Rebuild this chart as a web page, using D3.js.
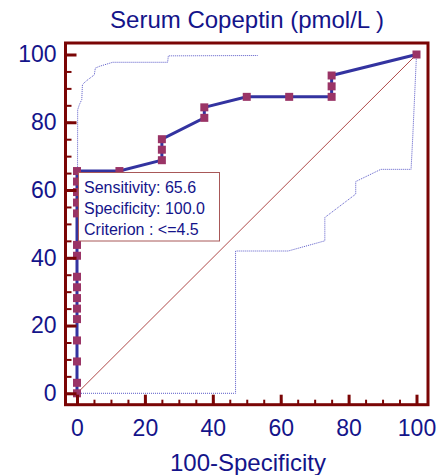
<!DOCTYPE html>
<html>
<head>
<meta charset="utf-8">
<script src="https://cdn.jsdelivr.net/npm/d3@7"></script>
<style>
  body { margin: 0; background: #fff; }
  svg { display: block; font-family: "Liberation Sans", Arial, sans-serif; }
</style>
</head>
<body>
<svg id="chart" width="440" height="475"></svg>
<script>
// ROC curve points (100-Specificity, Sensitivity)
var rocX = [0, 0, 0, 0, 0, 0, 0, 0, 0, 0, 0, 0, 0, 0, 0, 0,
            12.5, 25, 25, 25, 37.5, 37.5, 50, 62.5, 75, 75, 75, 100];
var rocY = [0, 3.1, 9.4, 15.6, 21.9, 25, 28.1, 31.3, 34.4, 40.6, 43.8, 53.1, 56.3, 59.4, 62.5, 65.6,
            65.6, 68.8, 71.9, 75, 81.3, 84.4, 87.5, 87.5, 87.5, 90.6, 93.8, 100];

// confidence bounds
var upperX = [0, 0.2, 0.7, 1.4, 1.6, 2.6, 5.1, 5.4, 6.6, 10.5, 26.7, 26.9, 53.2];
var upperY = [0, 83.7, 85.2, 86.7, 91.1, 92.1, 94, 96, 96.5, 97.7, 97.7, 99.6, 99.7];
var lowerX = [0, 46.7, 46.7, 62.2, 73, 73, 82.1, 82.1, 89.5, 98.4, 98.9, 100];
var lowerY = [0, 0, 42, 42, 45, 51.9, 58.8, 62.5, 66.1, 66.1, 75.7, 100];

var majorTicks = [0, 20, 40, 60, 80, 100];
var minorTicks = d3.range(0, 101, 5);

var legendLines = ["Sensitivity: 65.6", "Specificity: 100.0", "Criterion : <=4.5"];

var navy = "#14148a",
    frameColor = "#7a0505";

var svg = d3.select("#chart");

var x = d3.scaleLinear().domain([0, 100]).range([77, 416.5]);
var y = d3.scaleLinear().domain([0, 100]).range([393.3, 54.5]);

var frame = {left: 65.5, top: 43, right: 428, bottom: 404.7};

function pts(xs, ys) {
    return xs.map(function (v, i) { return [v, ys[i]]; });
}

var line = d3.line()
    .x(function (d) { return x(d[0]); })
    .y(function (d) { return y(d[1]); });

// title
svg.append("text")
    .attr("x", 247).attr("y", 28)
    .attr("text-anchor", "middle")
    .attr("font-size", "24px")
    .attr("fill", navy)
    .text("Serum Copeptin (pmol/L )");

// x label
svg.append("text")
    .attr("x", 248).attr("y", 471)
    .attr("text-anchor", "middle")
    .attr("font-size", "24px")
    .attr("fill", navy)
    .text("100-Specificity");

// diagonal reference
svg.append("path")
    .datum([[0, 0], [100, 100]])
    .attr("d", line)
    .attr("fill", "none")
    .attr("stroke", "#b04a4a")
    .attr("stroke-width", 1);

// confidence bands
[pts(upperX, upperY), pts(lowerX, lowerY)].forEach(function (band) {
    svg.append("path")
        .datum(band)
        .attr("d", line)
        .attr("fill", "none")
        .attr("stroke", "#5a5ac8")
        .attr("stroke-width", 1)
        .attr("stroke-dasharray", "1,1");
});

// roc curve
var roc = pts(rocX, rocY);
svg.append("path")
    .datum(roc)
    .attr("d", line)
    .attr("fill", "none")
    .attr("stroke", "#3333a0")
    .attr("stroke-width", 3);

svg.selectAll(".pt")
    .data(roc)
    .enter().append("rect")
    .attr("class", "pt")
    .attr("x", function (d) { return x(d[0]) - 4; })
    .attr("y", function (d) { return y(d[1]) - 4; })
    .attr("width", 8)
    .attr("height", 8)
    .attr("fill", "#9a3466");

// axes
function styleAxis(g, w) {
    g.select(".domain").remove();
    g.selectAll(".tick line").attr("stroke", frameColor).attr("stroke-width", w);
    g.selectAll(".tick text").attr("fill", navy).attr("font-size", "23px")
        .attr("font-family", "\"Liberation Sans\", Arial, sans-serif");
}

var xMinor = svg.append("g")
    .attr("transform", "translate(0," + frame.bottom + ")")
    .call(d3.axisBottom(x).tickValues(minorTicks).tickSize(-5).tickFormat(""));
styleAxis(xMinor, 2);

var xMajor = svg.append("g")
    .attr("transform", "translate(0," + frame.bottom + ")")
    .call(d3.axisBottom(x).tickValues(majorTicks).tickSizeInner(-10).tickSizeOuter(0).tickPadding(15));
styleAxis(xMajor, 3);

var yMinor = svg.append("g")
    .attr("transform", "translate(" + frame.left + ",0)")
    .call(d3.axisLeft(y).tickValues(minorTicks).tickSize(-6).tickFormat(""));
styleAxis(yMinor, 2);

var yMajor = svg.append("g")
    .attr("transform", "translate(" + frame.left + ",0)")
    .call(d3.axisLeft(y).tickValues(majorTicks).tickSizeInner(-11).tickSizeOuter(0).tickPadding(9));
styleAxis(yMajor, 3);

// frame
svg.append("rect")
    .attr("x", frame.left).attr("y", frame.top)
    .attr("width", frame.right - frame.left)
    .attr("height", frame.bottom - frame.top)
    .attr("fill", "none")
    .attr("stroke", frameColor)
    .attr("stroke-width", 3);

// legend box
var lg = svg.append("g").attr("transform", "translate(78.5,172.5)");
lg.append("rect")
    .attr("width", 141).attr("height", 68.5)
    .attr("fill", "#fff")
    .attr("stroke", "#a85858")
    .attr("stroke-width", 1);
lg.selectAll("text")
    .data(legendLines)
    .enter().append("text")
    .attr("x", 5.5)
    .attr("y", function (d, i) { return 20 + i * 21; })
    .attr("font-size", "16px")
    .attr("fill", navy)
    .text(function (d) { return d; });
</script>
</body>
</html>
